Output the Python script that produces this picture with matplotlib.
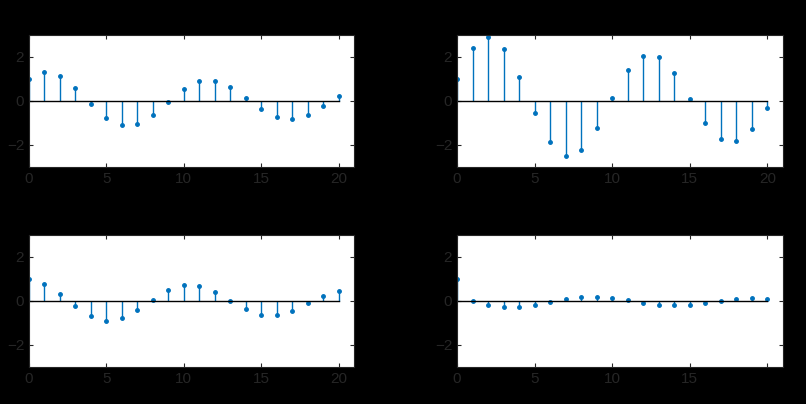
import matplotlib
matplotlib.use("Agg")
import matplotlib.pyplot as plt
import numpy as np

plt.rcParams['font.family'] = ['Liberation Sans', 'DejaVu Sans']

n = list(range(21))
s1 = [1.0,1.30,1.13,0.58,-0.14,-0.76,-1.11,-1.05,-0.64,-0.05,0.53,0.90,0.93,0.63,0.14,-0.38,-0.75,-0.82,-0.64,-0.23,0.23]
s2 = [1.0,2.40,2.90,2.37,1.07,-0.55,-1.88,-2.49,-2.21,-1.21,0.15,1.39,2.06,2.0,1.25,0.11,-1.01,-1.71,-1.80,-1.27,-0.34]
s3 = [1.0,0.79,0.32,-0.24,-0.69,-0.89,-0.78,-0.41,0.06,0.49,0.72,0.67,0.40,0.0,-0.38,-0.63,-0.64,-0.44,-0.11,0.23,0.47]
s4 = [1.0,-0.02,-0.17,-0.26,-0.26,-0.17,-0.05,0.08,0.17,0.20,0.12,0.03,-0.08,-0.17,-0.20,-0.17,-0.08,0.02,0.09,0.12,0.11]
xticks = [0,5,10,15,20]
yticks = [-2,0,2]

fig = plt.figure(figsize=(8.06,4.04), dpi=100, facecolor='black')
W, H = 806, 404
boxes = [(29,35,354,167),(457,35,783,167),(29,235,354,367),(457,235,783,367)]
data = [s1,s2,s3,s4]
for i,((x0,y0,x1,y1),s) in enumerate(zip(boxes,data)):
    ax = fig.add_axes([x0/W, 1-y1/H, (x1-x0)/W, (y1-y0)/H])
    ax.set_facecolor('white')
    ml, sl, bl = ax.stem(n, s, basefmt='k-')
    plt.setp(sl, color='#0072BD', linewidth=1.0)
    plt.setp(ml, color='#0072BD', markersize=2.5)
    plt.setp(bl, color='black', linewidth=1.0)
    ax.set_xlim(0,21); ax.set_ylim(-3,3)
    ax.set_xticks(xticks); ax.set_yticks(yticks)
    if i == 3:
        ax.set_xticklabels(['0','5','10','15',''])
    ax.tick_params(direction='in', length=3, colors='#262626', labelsize=11,
                   labelcolor='#262626', top=True, right=True)
    for sp in ax.spines.values():
        sp.set_color('#262626'); sp.set_linewidth(0.8)
fig.savefig('out.png', dpi=100, facecolor='black')
